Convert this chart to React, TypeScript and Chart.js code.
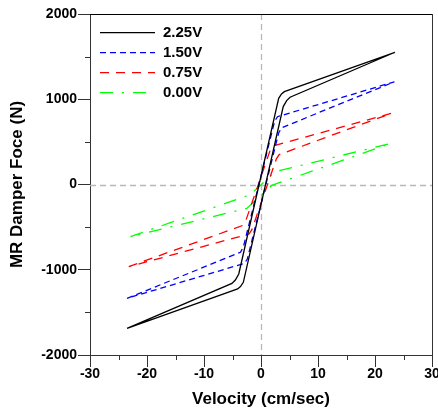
import React, { useEffect, useRef } from 'react';
import { Chart, registerables } from 'chart.js';

Chart.register(...registerables);

// ---- data ----
const seriesLabels = ['2.25V', '1.50V', '0.75V', '0.00V'];

const vel225 = [-23.5, -5.1, -4.5, -3.9, 3.1, 3.6, 4.1, 23.5, 5.1, 4.5, 3.9, -3.1, -3.6, -4.1, -23.5];
const force225 = [-1687, -1160, -1120, -1050, 1011, 1062, 1089, 1551, 1024, 984, 914, -1147, -1198, -1225, -1687];

const vel150 = [-23.5, -3.6, -3.1, 2.4, 2.9, 23.4, 3.6, 3.1, -2.4, -2.9, -23.5];
const force150 = [-1335, -795, -735, 745, 795, 1205, 665, 605, -875, -925, -1335];

const vel075 = [-23.2, -3.2, -2.7, 1.6, 2.1, 22.9, 3.2, 2.7, -1.6, -2.1, -23.2];
const force075 = [-964, -480, -430, 400, 452, 835, 351, 301, -529, -581, -964];

const vel000 = [-22.9, -1.9, 2.5, 22.8, 1.9, -2.5, -22.9];
const force000 = [-612, -120, 150, 483, -10, -280, -612];

const xTickValues = [-30, -20, -10, 0, 10, 20, 30];
const yTickValues = [-2000, -1000, 0, 1000, 2000];
const xMinorTicks = [-25, -15, -5, 5, 15, 25];
const yMinorTicks = [-1500, -500, 500, 1500];

const xTitle = 'Velocity (cm/sec)';
const yTitle = 'MR Damper Foce (N)';

// ---- styles ----
const FONT = "'Liberation Sans', Arial, Helvetica, sans-serif";
const seriesStyles = [
  { color: '#000000', dash: [] as number[] },
  { color: '#0000ff', dash: [6, 4] },
  { color: '#ff0000', dash: [9, 7] },
  { color: '#00ff00', dash: [13, 9, 2, 9] },
];
const AXIS_COLOR = '#333333';

function toPoints(xs: number[], ys: number[]) {
  return xs.map((x, i) => ({ x, y: ys[i] }));
}

const seriesData = [
  toPoints(vel225, force225),
  toPoints(vel150, force150),
  toPoints(vel075, force075),
  toPoints(vel000, force000),
];

const decorPlugin = {
  id: 'decor',
  beforeDatasetsDraw(chart: any) {
    const { ctx, chartArea: a, scales } = chart;
    const x0 = Math.round(scales.x.getPixelForValue(0)) + 0.5;
    const y0 = Math.round(scales.y.getPixelForValue(0)) + 0.5;
    ctx.save();
    ctx.strokeStyle = '#b8b8b8';
    ctx.lineWidth = 1.3;
    ctx.setLineDash([6, 4]);
    ctx.beginPath();
    ctx.moveTo(a.left, y0);
    ctx.lineTo(a.right, y0);
    ctx.stroke();
    ctx.beginPath();
    ctx.moveTo(x0, a.top);
    ctx.lineTo(x0, a.bottom);
    ctx.stroke();
    ctx.restore();
  },
  afterDraw(chart: any) {
    const { ctx, chartArea: a, scales } = chart;
    ctx.save();
    ctx.setLineDash([]);
    // top & right frame
    ctx.lineWidth = 1;
    ctx.strokeStyle = '#000000';
    ctx.beginPath();
    ctx.moveTo(a.left, Math.round(a.top) + 0.5);
    ctx.lineTo(a.right, Math.round(a.top) + 0.5);
    ctx.stroke();
    ctx.strokeStyle = AXIS_COLOR;
    ctx.beginPath();
    ctx.moveTo(Math.round(a.right) + 0.5, a.top);
    ctx.lineTo(Math.round(a.right) + 0.5, a.bottom);
    ctx.stroke();
    // minor ticks
    ctx.strokeStyle = AXIS_COLOR;
    ctx.beginPath();
    xMinorTicks.forEach((v) => {
      const px = Math.round(scales.x.getPixelForValue(v)) + 0.5;
      ctx.moveTo(px, a.bottom);
      ctx.lineTo(px, a.bottom + 5);
    });
    yMinorTicks.forEach((v) => {
      const py = Math.round(scales.y.getPixelForValue(v)) + 0.5;
      ctx.moveTo(a.left, py);
      ctx.lineTo(a.left - 5, py);
    });
    ctx.stroke();
    // legend
    const lx0 = a.left + 10;
    const lx1 = a.left + 65;
    const tx = a.left + 73;
    ctx.font = `bold 15px ${FONT}`;
    ctx.textBaseline = 'middle';
    ctx.textAlign = 'left';
    seriesLabels.forEach((lab, i) => {
      const yy = a.top + 18.7 + i * 20;
      ctx.strokeStyle = seriesStyles[i].color;
      ctx.lineWidth = 1.3;
      ctx.setLineDash(seriesStyles[i].dash);
      ctx.beginPath();
      ctx.moveTo(lx0, yy);
      ctx.lineTo(lx1, yy);
      ctx.stroke();
      ctx.setLineDash([]);
      ctx.fillStyle = '#000000';
      ctx.fillText(lab, tx, yy + 0.5);
    });
    ctx.restore();
  },
};

export default function App() {
  const ref = useRef<HTMLCanvasElement>(null);
  useEffect(() => {
    if (!ref.current) return;
    const chart = new Chart(ref.current, {
      type: 'line',
      data: {
        datasets: seriesData.map((d, i) => ({
          label: seriesLabels[i],
          data: d,
          borderColor: seriesStyles[i].color,
          backgroundColor: seriesStyles[i].color,
          borderDash: seriesStyles[i].dash,
          borderWidth: 1.3,
          pointRadius: 0,
          tension: 0,
          fill: false,
        })),
      },
      options: {
        animation: false,
        responsive: true,
        maintainAspectRatio: false,
        layout: { padding: { top: 14, right: 6, bottom: 0, left: 0 } },
        plugins: {
          legend: { display: false },
          tooltip: { enabled: false },
        },
        scales: {
          x: {
            type: 'linear',
            min: -30,
            max: 30,
            afterBuildTicks: (s: any) => {
              s.ticks = xTickValues.map((v) => ({ value: v }));
            },
            afterFit: (s: any) => {
              s.height = 53;
              s.paddingLeft = 0;
              s.paddingRight = 0;
            },
            grid: {
              drawOnChartArea: false,
              drawTicks: true,
              tickLength: 12,
              tickColor: AXIS_COLOR,
              tickWidth: 1,
            },
            border: { color: AXIS_COLOR, width: 1 },
            ticks: {
              color: '#000000',
              padding: 0,
              maxRotation: 0,
              autoSkip: false,
              font: { family: FONT, size: 14, weight: 'bold', lineHeight: 1 },
              callback: (v: any) => String(v),
            },
            title: {
              display: true,
              text: xTitle,
              color: '#000000',
              font: { family: FONT, size: 17, weight: 'bold', lineHeight: 1 },
              padding: { top: 0, bottom: 0 },
            },
          },
          y: {
            type: 'linear',
            min: -2000,
            max: 2000,
            afterBuildTicks: (s: any) => {
              s.ticks = yTickValues.map((v) => ({ value: v }));
            },
            afterFit: (s: any) => {
              s.width = 90;
              s.paddingTop = 0;
              s.paddingBottom = 0;
            },
            grid: {
              drawOnChartArea: false,
              drawTicks: true,
              tickLength: 12,
              tickColor: AXIS_COLOR,
              tickWidth: 1,
            },
            border: { color: AXIS_COLOR, width: 1 },
            ticks: {
              color: '#000000',
              padding: 1,
              autoSkip: false,
              font: { family: FONT, size: 14, weight: 'bold', lineHeight: 1 },
              callback: (v: any) => String(v),
            },
            title: {
              display: true,
              text: yTitle,
              color: '#000000',
              font: { family: FONT, size: 17, weight: 'bold', lineHeight: 1 },
              padding: { top: 9, bottom: 0 },
            },
          },
        },
      } as any,
      plugins: [decorPlugin],
    });
    return () => chart.destroy();
  }, []);
  return (
    <div style={{ position: 'fixed', left: 0, top: 0, width: 438, height: 408, background: '#ffffff' }}>
      <canvas ref={ref} />
    </div>
  );
}
